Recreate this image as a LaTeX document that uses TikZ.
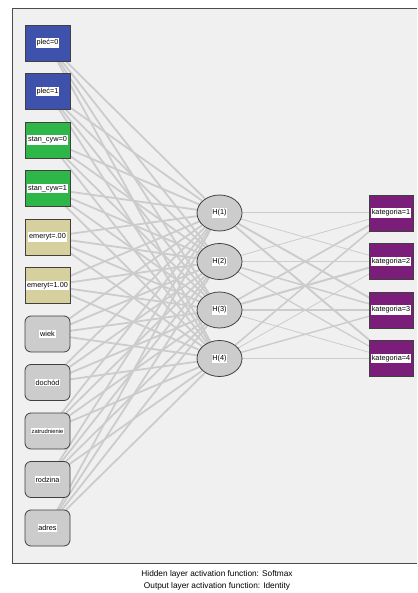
\documentclass[tikz,border=0pt]{standalone}
\usepackage{fontspec}
\setmainfont{Liberation Sans}
\usetikzlibrary{backgrounds,shapes.geometric}

\definecolor{inblue}{RGB}{62,82,172}
\definecolor{ingreen}{RGB}{46,182,72}
\definecolor{inkhaki}{RGB}{214,208,158}
\definecolor{unitgray}{RGB}{204,204,204}
\definecolor{outpurple}{RGB}{122,30,122}
\definecolor{panelgray}{RGB}{240,240,240}
\definecolor{linkgray}{RGB}{204,204,204}

\tikzset{
  unit/.style={draw=black!75, line width=0.8pt, minimum width=45pt, minimum height=36pt, inner sep=0pt},
  covar/.style={unit, fill=unitgray, rounded corners=6pt},
  hidden/.style={unit, ellipse, fill=unitgray},
  lab/.style={fill=white, inner xsep=0.8pt, inner ysep=1.2pt, font=\fontsize{7.3}{8}\selectfont},
  tag/.style={label={[lab]center:{#1}}},
  smalltag/.style={label={[lab, font=\fontsize{5.8}{6}\selectfont]center:{#1}}},
  link/.style={draw=linkgray, line width=1.8pt},
}

\begin{document}
\begin{tikzpicture}[x=1pt, y=-1pt]

\useasboundingbox (0,0) rectangle (417,593);

% input layer
\node[unit, fill=inblue, tag={pleć=0}] (plec0) at (47.5,43) {};
\node[unit, fill=inblue, tag={pleć=1}] (plec1) at (47.5,91.5) {};
\node[unit, fill=ingreen, tag={stan\_cyw=0}] (stan0) at (47.5,140) {};
\node[unit, fill=ingreen, tag={stan\_cyw=1}] (stan1) at (47.5,188.5) {};
\node[unit, fill=inkhaki, tag={emeryt=.00}] (emer0) at (47.5,237) {};
\node[unit, fill=inkhaki, tag={emeryt=1.00}] (emer1) at (47.5,285.5) {};
\node[covar, tag={wiek}] (wiek) at (47.5,334) {};
\node[covar, tag={dochód}] (dochod) at (47.5,382.5) {};
\node[covar, smalltag={zatrudnienie}] (zatr) at (47.5,431) {};
\node[covar, tag={rodzina}] (rodzina) at (47.5,479.5) {};
\node[covar, tag={adres}] (adres) at (47.5,528) {};

% hidden layer
\node[hidden, tag={H(1)}] (h1) at (219.5,213) {};
\node[hidden, tag={H(2)}] (h2) at (219.5,261.5) {};
\node[hidden, tag={H(3)}] (h3) at (219.5,310) {};
\node[hidden, tag={H(4)}] (h4) at (219.5,358.5) {};

% output layer
\node[unit, minimum width=44pt, fill=outpurple, tag={kategoria=1}] (k1) at (391,213) {};
\node[unit, minimum width=44pt, fill=outpurple, tag={kategoria=2}] (k2) at (391,261.5) {};
\node[unit, minimum width=44pt, fill=outpurple, tag={kategoria=3}] (k3) at (391,310) {};
\node[unit, minimum width=44pt, fill=outpurple, tag={kategoria=4}] (k4) at (391,358.5) {};

\node[align=center, font=\fontsize{8.3}{12}\selectfont] (caption) at (217,580)
  {Hidden layer activation function: Softmax\\Output layer activation function: Identity};

\begin{scope}[on background layer]
\fill[panelgray] (12,8) rectangle (417,563);
\draw[black!70, line width=0.9pt] (417,8) -- (12,8) -- (12,563) -- (417,563);

\foreach \i in {plec0,plec1,stan0,stan1,emer0,emer1,wiek,dochod,zatr,rodzina,adres}
  \foreach \j in {1,...,4}
    \draw[link] (\i.center) -- (h\j.center);

% synaptic weights, hidden -> output
\foreach \h/\k/\w in {1/1/1.0, 1/2/0.8, 1/3/1.9, 1/4/1.9,
                      2/1/0.8, 2/2/1.4, 2/3/1.5, 2/4/1.2,
                      3/1/1.7, 3/2/2.0, 3/3/1.2, 3/4/0.8,
                      4/1/1.6, 4/2/0.8, 4/3/1.4, 4/4/1.0}
  \draw[link, line width=\w pt] (h\h.center) -- (k\k.center);
\end{scope}

\end{tikzpicture}
\end{document}
